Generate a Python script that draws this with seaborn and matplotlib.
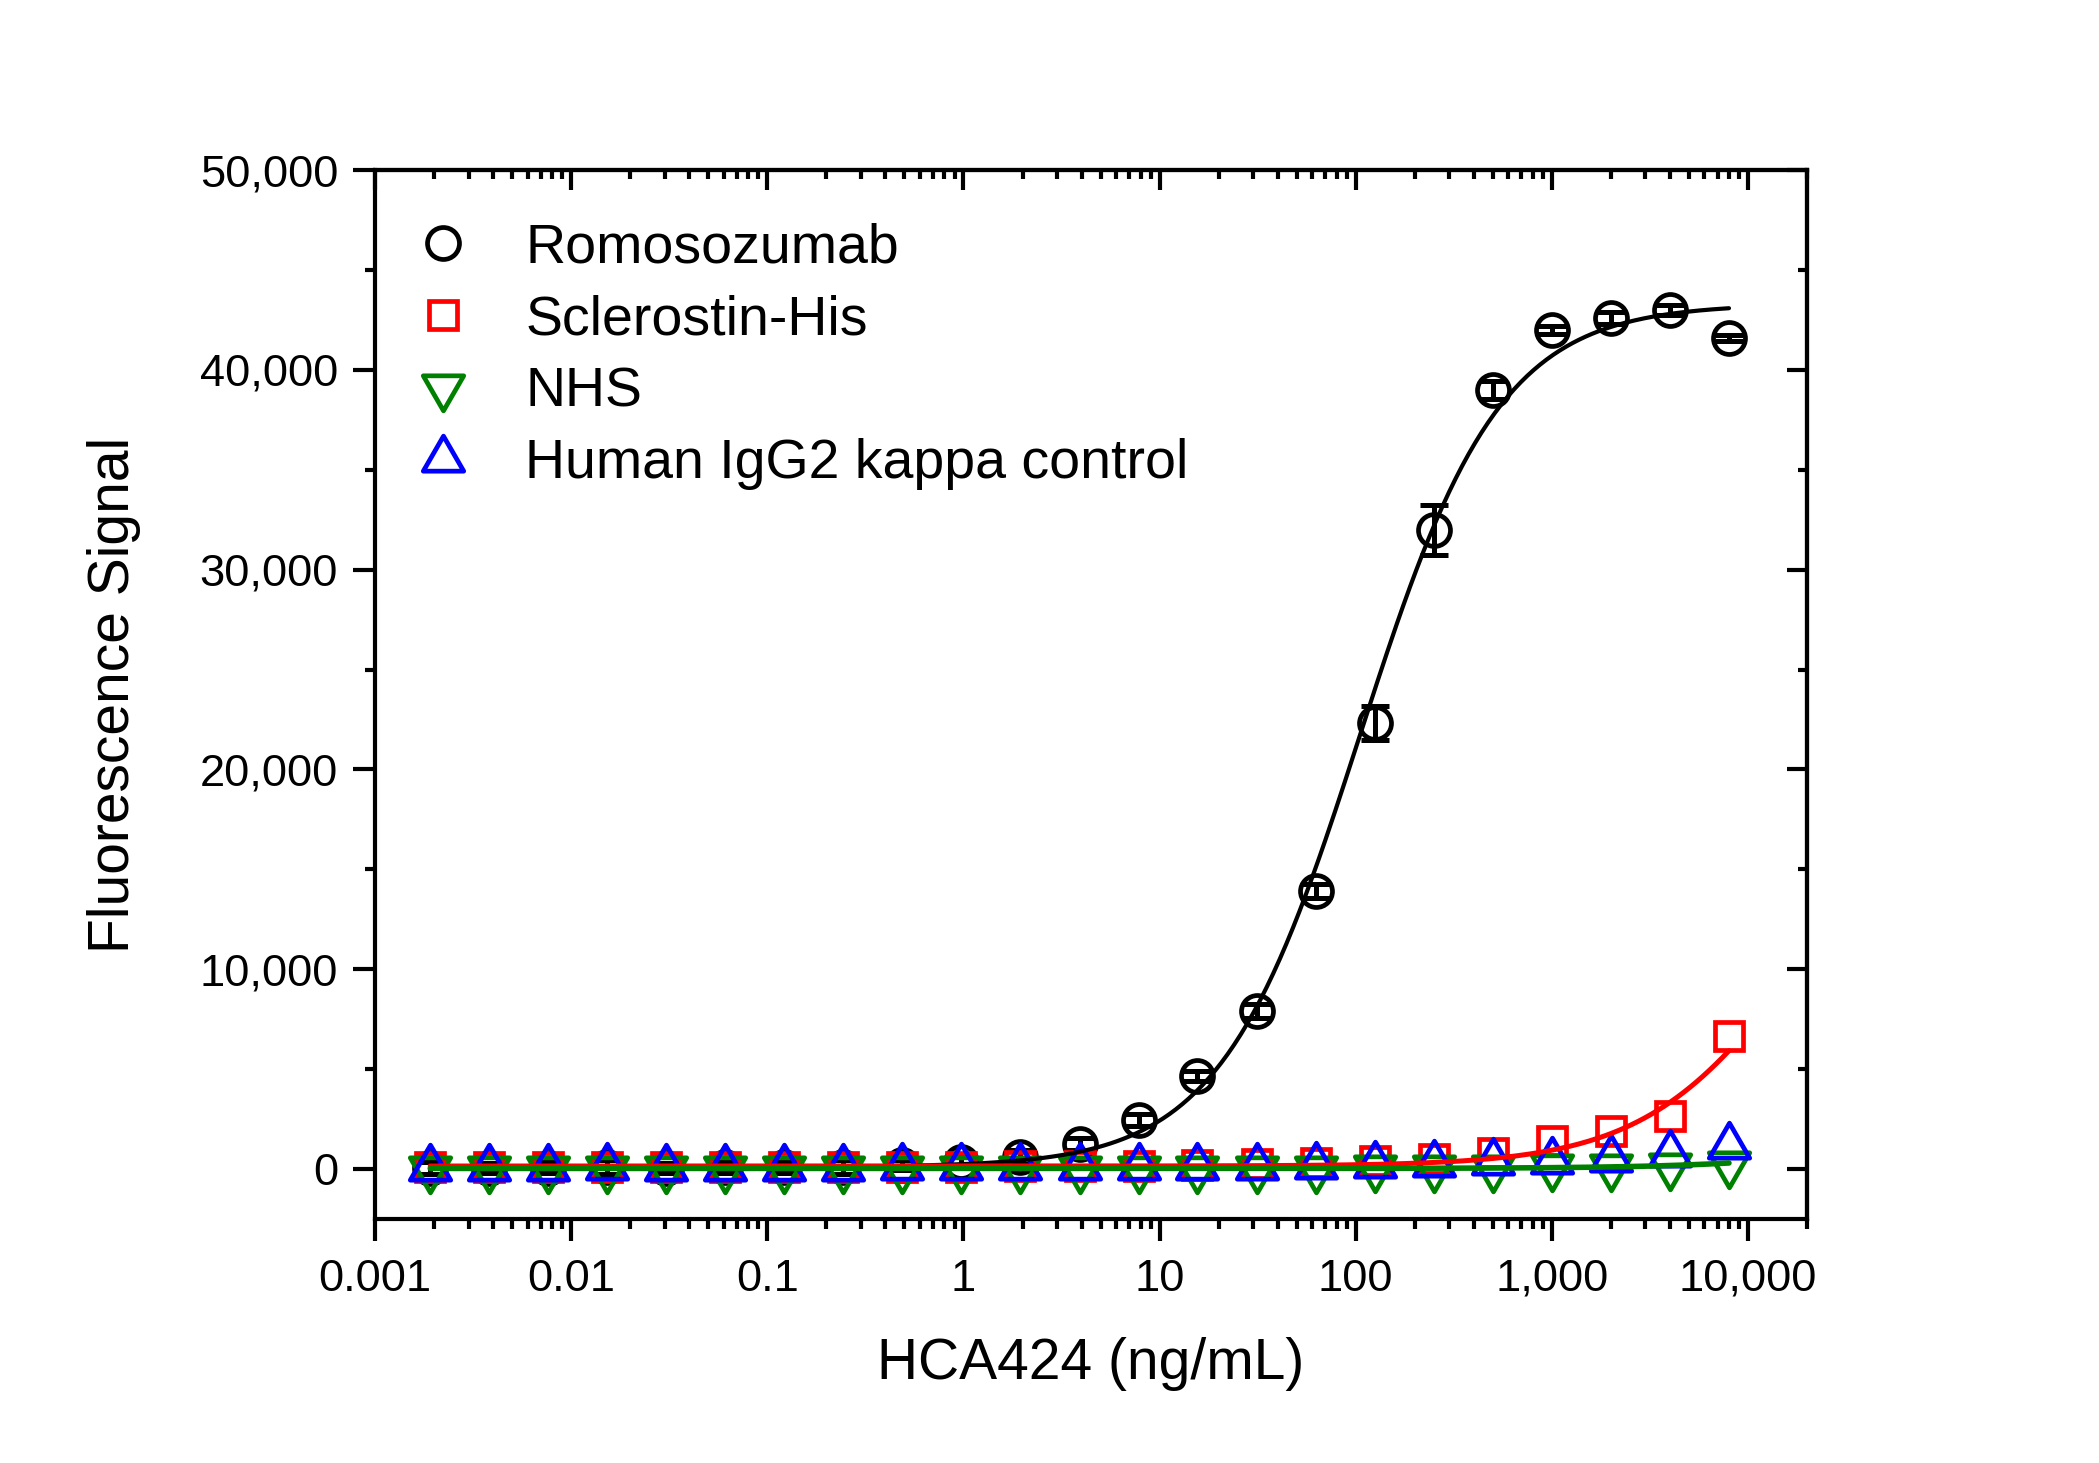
#!/usr/bin/env python3

import numpy as np
import matplotlib
matplotlib.use("Agg")
import matplotlib.pyplot as plt
from matplotlib.path import Path
from matplotlib.lines import Line2D
from matplotlib.ticker import FixedLocator, LogLocator, FuncFormatter, NullFormatter
import seaborn as sns

# concentrations (ng/mL), 2-fold dilution series
conc = [0.00191, 0.00381, 0.00763, 0.0153, 0.0305, 0.061, 0.122, 0.244, 0.488,
        0.977, 1.95, 3.91, 7.81, 15.6, 31.3, 62.5, 125, 250, 500, 1000, 2000,
        4000, 8000]

romo_mean = [60, 40, 70, 90, 50, 80, 100, 120, 200, 350, 600, 1250, 2450, 4650,
             7900, 13900, 22300, 32000, 39000, 42000, 42600, 43000, 41600]
romo_sd = [300, 250, 280, 350, 260, 270, 300, 350, 250, 300, 350, 300, 300, 250,
           350, 350, 850, 1250, 450, 200, 300, 250, 150]

scl_mean = [90, 80, 100, 90, 80, 100, 90, 100, 110, 120, 130, 150, 170, 200, 230,
            300, 380, 500, 800, 1380, 1900, 2650, 6650]
nhs_mean = [0, -20, 10, 0, -10, 0, 10, -10, 0, 10, 0, 20, 10, 0, 10, 20, 30, 40,
            60, 80, 110, 150, 250]
igg_mean = [60, 70, 60, 80, 60, 70, 60, 70, 80, 90, 80, 90, 100, 110, 120, 150,
            200, 230, 330, 380, 480, 730, 1150]

# 4PL fit parameters (bottom, top, EC50, hill)
romo_fit = (100, 43300, 105, 1.22)
scl_fit = (150, 20000, 18000, 1.1)
nhs_fit = (30, 2000, 50000, 1.0)

labels = ["Romosozumab", "Sclerostin-His", "NHS", "Human IgG2 kappa control"]
colors = ["#000000", "#ff0000", "#008000", "#0000ff"]

x_ticks = [0.001, 0.01, 0.1, 1, 10, 100, 1000, 10000]
x_ticklabels = ["0.001", "0.01", "0.1", "1", "10", "100", "1,000", "10,000"]
y_ticks = [0, 10000, 20000, 30000, 40000, 50000]
y_minor = [5000, 15000, 25000, 35000, 45000]

sns.set_theme(style="ticks")
plt.rcParams["font.family"] = ["Liberation Sans", "DejaVu Sans"]
plt.rcParams["text.color"] = "black"
plt.rcParams["axes.labelcolor"] = "black"
plt.rcParams["xtick.color"] = "black"
plt.rcParams["ytick.color"] = "black"

# triangles anchored on their centroid (Origin style)
tri_down = Path([(-0.5, 0.2887), (0.5, 0.2887), (0, -0.5774), (-0.5, 0.2887)],
                [Path.MOVETO, Path.LINETO, Path.LINETO, Path.CLOSEPOLY])
tri_up = Path([(-0.5, -0.2887), (0.5, -0.2887), (0, 0.5774), (-0.5, -0.2887)],
              [Path.MOVETO, Path.LINETO, Path.LINETO, Path.CLOSEPOLY])
markers = ["o", "s", tri_down, tri_up]
msizes = [11.5, 10.2, 16.8, 16.8]
MEW = 1.7
LW = 1.5


def four_pl(x, p):
    bottom, top, ec50, hill = p
    return bottom + (top - bottom) / (1 + (ec50 / x) ** hill)


fig = plt.figure(figsize=(10.495, 7.315), dpi=200)
ax = fig.add_axes([0.1787, 0.1668, 0.6822, 0.7170])
ax.set_xscale("log")

xfit = np.logspace(np.log10(conc[0]), np.log10(conc[-1]), 400)

# error bars for Romosozumab
ax.errorbar(conc, romo_mean, yerr=romo_sd, fmt="none", ecolor="black",
            elinewidth=1.8, capsize=5, capthick=1.8, zorder=2)

all_means = [romo_mean, scl_mean, nhs_mean, igg_mean]
for i in [0, 1, 3, 2]:
    sns.lineplot(x=conc, y=all_means[i], ax=ax, linestyle="", marker=markers[i],
                 markersize=msizes[i], mfc="none", mec=colors[i], mew=MEW,
                 color=colors[i], estimator=None, errorbar=None, sort=False,
                 zorder=3 + i)

fits = [(romo_fit, colors[0], 1.5), (scl_fit, colors[1], 1.8), (nhs_fit, colors[2], 2.0)]
for p, c, lw in fits:
    sns.lineplot(x=xfit, y=four_pl(xfit, p), ax=ax, color=c, linewidth=lw,
                 estimator=None, errorbar=None, zorder=8)

ax.set_xlim(0.001, 20000)
ax.set_ylim(-2500, 50000)

ax.set_xticks(x_ticks, x_ticklabels)
ax.xaxis.set_minor_locator(LogLocator(base=10, subs=range(2, 10), numticks=100))
ax.xaxis.set_minor_formatter(NullFormatter())
ax.yaxis.set_major_locator(FixedLocator(y_ticks))
ax.yaxis.set_minor_locator(FixedLocator(y_minor))
ax.yaxis.set_major_formatter(FuncFormatter(lambda v, pos: f"{v:,.0f}"))

for sp in ax.spines.values():
    sp.set_linewidth(LW)
    sp.set_color("black")
    sp.set_visible(True)

ax.tick_params(which="major", direction="out", length=7.8, width=LW,
               labelsize=16.3, color="black", labelcolor="black")
ax.tick_params(which="minor", direction="out", length=3.6, width=LW, color="black")
ax.tick_params(axis="x", which="major", pad=6.5)
ax.tick_params(axis="y", which="major", pad=5.5)

# mirrored ticks on top / right, pointing inward
top = ax.secondary_xaxis("top", functions=(lambda v: v, lambda v: v))
top.set_xticks(x_ticks)
top.xaxis.set_minor_locator(LogLocator(base=10, subs=range(2, 10), numticks=100))
top.tick_params(which="major", direction="in", length=7.2, width=LW, labeltop=False)
top.tick_params(which="minor", direction="in", length=3.4, width=LW)
top.xaxis.set_minor_formatter(NullFormatter())
top.spines["top"].set_linewidth(LW)

right = ax.secondary_yaxis("right", functions=(lambda v: v, lambda v: v))
right.yaxis.set_major_locator(FixedLocator(y_ticks))
right.yaxis.set_minor_locator(FixedLocator(y_minor))
right.tick_params(which="major", direction="in", length=7.2, width=LW, labelright=False)
right.tick_params(which="minor", direction="in", length=3.4, width=LW)
right.spines["right"].set_linewidth(LW)

ax.set_xlabel("HCA424 (ng/mL)", fontsize=20.5, labelpad=13.5, color="black")
ax.set_ylabel("Fluorescence Signal", fontsize=20.5, labelpad=21, color="black")
ax.grid(False)

handles = [Line2D([], [], linestyle="", marker=markers[i], markersize=msizes[i],
                  mfc="none", mec=colors[i], mew=MEW) for i in range(4)]
fig.legend(handles, labels, loc="upper left", bbox_to_anchor=(0.1952, 0.848),
           bbox_transform=fig.transFigure, frameon=False, fontsize=20,
           handlelength=1.2, handletextpad=0.876, labelspacing=0.36,
           borderpad=0, borderaxespad=0, labelcolor="black")

fig.savefig("out.png", dpi=200, facecolor="white")
